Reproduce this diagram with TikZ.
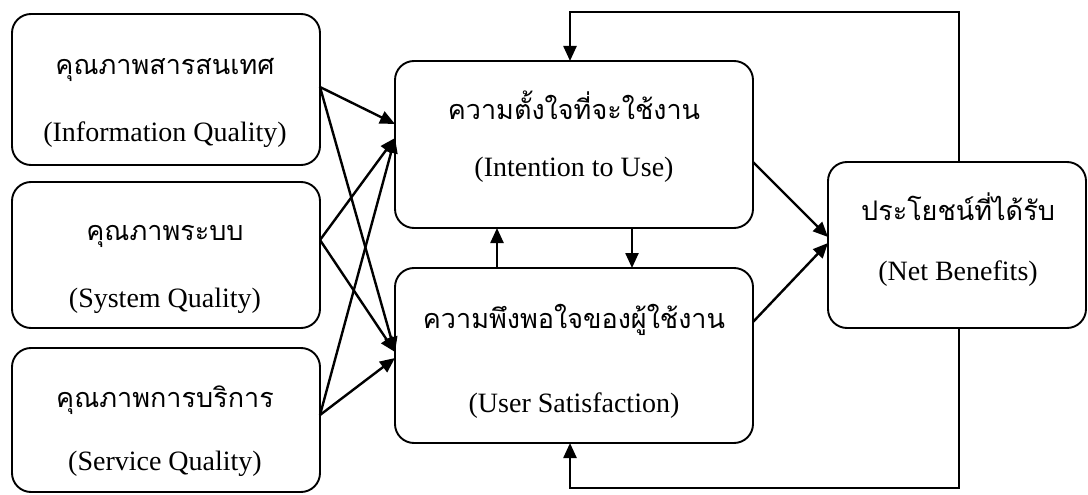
\documentclass[tikz,border=0pt]{standalone}
\usepackage{fontspec}
\setmainfont{Liberation Serif}
\newfontfamily\thaifont[Script=Thai]{Loma}
\usetikzlibrary{arrows.meta,calc}
\tikzset{
  box/.style={draw, line width=1.9pt, rounded corners=19pt, inner sep=0pt, outer sep=0pt},
  th/.style={font=\thaifont\fontsize{27}{32}\selectfont, anchor=base, inner sep=0pt},
  en/.style={font=\fontsize{28}{34}\selectfont, anchor=base, inner sep=0pt},
  arr/.style={-{Triangle[length=15pt,width=13pt]}, line width=2.4pt}
}
\begin{document}
\begin{tikzpicture}[x=1pt,y=-1pt]
\useasboundingbox (0,0) rectangle (1088,495);
% boxes
\node[box, minimum width=308pt, minimum height=151pt] (b1) at (166,89.5) {};
\node[box, minimum width=308pt, minimum height=146pt] (b2) at (166,255) {};
\node[box, minimum width=308pt, minimum height=144pt] (b3) at (166,420) {};
\node[box, minimum width=358pt, minimum height=167pt] (iu) at (574,144.5) {};
\node[box, minimum width=358pt, minimum height=175pt] (us) at (574,355.5) {};
\node[box, minimum width=258pt, minimum height=166pt] (nb) at (957,245) {};
% texts
\node[th] (b1t) at (165,75) {คุณภาพสารสนเทศ};
\node[en] (b1e) at (165,142) {(Information Quality)};
\node[th] (b2t) at (165,240) {คุณภาพระบบ};
\node[en] (b2e) at (165,307) {(System Quality)};
\node[th] (b3t) at (165,407) {คุณภาพการบริการ};
\node[en] (b3e) at (165,470) {(Service Quality)};
\node[th] (iut) at (574,120) {ความตั้งใจที่จะใช้งาน};
\node[en] (iue) at (574,176) {(Intention to Use)};
\node[th] (ust) at (574,328) {ความพึงพอใจของผู้ใช้งาน};
\node[en] (use) at (574,412) {(User Satisfaction)};
\node[th] (nbt) at (958,220) {ประโยชน์ที่ได้รับ};
\node[en] (nbe) at (958,280) {(Net Benefits)};
% left arrows
\draw[arr] ($(b1.east)+(0,-2.5)$) -- ($(iu.west)+(0,-20.5)$);
\draw[arr] ($(b1.east)+(0,-2.5)$) -- ($(us.west)+(0,-3.5)$);
\draw[arr] ($(b2.east)+(0,-15)$) -- ($(iu.west)+(0,-6.5)$);
\draw[arr] ($(b2.east)+(0,-15)$) -- ($(us.west)+(0,-3.5)$);
\draw[arr] ($(b3.east)+(0,-5)$) -- ($(iu.west)+(0,-6.5)$);
\draw[arr] ($(b3.east)+(0,-5)$) -- ($(us.west)+(0,2.5)$);
% middle arrows
\draw[arr] ($(us.north)+(-77,0)$) -- ($(iu.south)+(-77,0)$);
\draw[arr] ($(iu.south)+(58,0)$) -- ($(us.north)+(58,0)$);
% to net benefits
\draw[arr] ($(iu.east)+(0,17.5)$) -- ($(nb.west)+(0,-8)$);
\draw[arr] ($(us.east)+(0,-33.5)$) -- ($(nb.west)+(0,-2)$);
% feedback
\coordinate (ft) at (959,12);
\coordinate (fb) at (959,488);
\draw[arr] ($(nb.north)+(2,0)$) -- (ft) -| ($(iu.north)+(-4,0)$);
\draw[arr] ($(nb.south)+(2,0)$) -- (fb) -| ($(us.south)+(-4,0)$);
\end{tikzpicture}
\end{document}
